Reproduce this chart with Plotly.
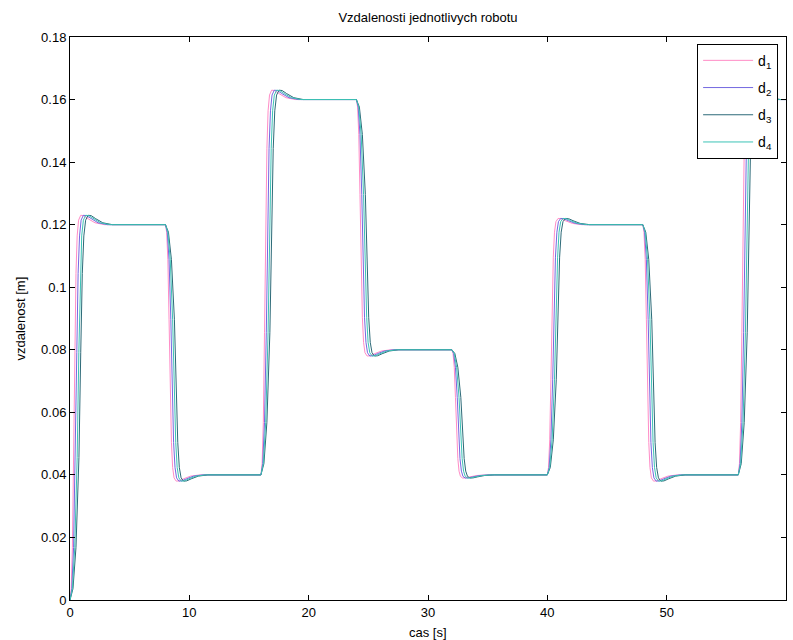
import plotly.graph_objects as go

# Distance profile shared by all robots (m); each robot follows it with its own timing
distance_path = [
    0.0, 0.0036, 0.0168, 0.0456, 0.0792, 0.1044, 0.1164, 0.12144, 0.123, 0.12288, 0.12192, 0.1206, 0.12,
    0.12, 0.1176, 0.1088, 0.0896, 0.0672, 0.0504, 0.0424, 0.03904, 0.038, 0.03808, 0.03872, 0.0396, 0.04,
    0.04, 0.0436, 0.0568, 0.0856, 0.1192, 0.1444, 0.1564, 0.16144, 0.163, 0.16288, 0.16192, 0.1606, 0.16,
    0.16, 0.1576, 0.1488, 0.1296, 0.1072, 0.0904, 0.0824, 0.07904, 0.078, 0.07808, 0.07872, 0.0796, 0.08,
    0.08, 0.0788, 0.0744, 0.0648, 0.0536, 0.0452, 0.0412, 0.03952, 0.039, 0.03904, 0.03936, 0.0398, 0.04,
    0.04, 0.0424, 0.0512, 0.0704, 0.0928, 0.1096, 0.1176, 0.12096, 0.122, 0.12192, 0.12128, 0.1204, 0.12,
    0.12, 0.1176, 0.1088, 0.0896, 0.0672, 0.0504, 0.0424, 0.03904, 0.038, 0.03808, 0.03872, 0.0396, 0.04,
    0.04, 0.0436, 0.0568, 0.0856, 0.1192, 0.1444, 0.1564, 0.16144, 0.163, 0.16288, 0.16192, 0.1606, 0.16,
    0.16,
]

# Sample times (s) for each robot
t_d1 = [
    0, 0.1, 0.2, 0.3, 0.4, 0.5, 0.6, 0.72, 0.9, 1.15, 1.5, 2.1, 2.9,
    8, 8.1, 8.2, 8.3, 8.4, 8.5, 8.6, 8.72, 8.9, 9.15, 9.5, 10.1, 10.9,
    16, 16.1, 16.2, 16.3, 16.4, 16.5, 16.6, 16.72, 16.9, 17.15, 17.5, 18.1, 18.9,
    24, 24.1, 24.2, 24.3, 24.4, 24.5, 24.6, 24.72, 24.9, 25.15, 25.5, 26.1, 26.9,
    32, 32.1, 32.2, 32.3, 32.4, 32.5, 32.6, 32.72, 32.9, 33.15, 33.5, 34.1, 34.9,
    40, 40.1, 40.2, 40.3, 40.4, 40.5, 40.6, 40.72, 40.9, 41.15, 41.5, 42.1, 42.9,
    48, 48.1, 48.2, 48.3, 48.4, 48.5, 48.6, 48.72, 48.9, 49.15, 49.5, 50.1, 50.9,
    56, 56.1, 56.2, 56.3, 56.4, 56.5, 56.6, 56.72, 56.9, 57.15, 57.5, 58.1, 58.9,
    60,
]
t_d2 = [
    0, 0.15, 0.3, 0.45, 0.57, 0.68, 0.8, 0.93, 1.12, 1.38, 1.75, 2.35, 3.15,
    8, 8.15, 8.3, 8.45, 8.57, 8.68, 8.8, 8.93, 9.12, 9.38, 9.75, 10.35, 11.15,
    16, 16.15, 16.3, 16.45, 16.57, 16.68, 16.8, 16.93, 17.12, 17.38, 17.75, 18.35, 19.15,
    24, 24.15, 24.3, 24.45, 24.57, 24.68, 24.8, 24.93, 25.12, 25.38, 25.75, 26.35, 27.15,
    32, 32.15, 32.3, 32.45, 32.57, 32.68, 32.8, 32.93, 33.12, 33.38, 33.75, 34.35, 35.15,
    40, 40.15, 40.3, 40.45, 40.57, 40.68, 40.8, 40.93, 41.12, 41.38, 41.75, 42.35, 43.15,
    48, 48.15, 48.3, 48.45, 48.57, 48.68, 48.8, 48.93, 49.12, 49.38, 49.75, 50.35, 51.15,
    56, 56.15, 56.3, 56.45, 56.57, 56.68, 56.8, 56.93, 57.12, 57.38, 57.75, 58.35, 59.15,
    60,
]
t_d3 = [
    0, 0.25, 0.5, 0.75, 0.9, 1.03, 1.16, 1.31, 1.52, 1.78, 2.15, 2.75, 3.55,
    8, 8.25, 8.5, 8.75, 8.9, 9.03, 9.16, 9.31, 9.52, 9.78, 10.15, 10.75, 11.55,
    16, 16.25, 16.5, 16.75, 16.9, 17.03, 17.16, 17.31, 17.52, 17.78, 18.15, 18.75, 19.55,
    24, 24.25, 24.5, 24.75, 24.9, 25.03, 25.16, 25.31, 25.52, 25.78, 26.15, 26.75, 27.55,
    32, 32.25, 32.5, 32.75, 32.9, 33.03, 33.16, 33.31, 33.52, 33.78, 34.15, 34.75, 35.55,
    40, 40.25, 40.5, 40.75, 40.9, 41.03, 41.16, 41.31, 41.52, 41.78, 42.15, 42.75, 43.55,
    48, 48.25, 48.5, 48.75, 48.9, 49.03, 49.16, 49.31, 49.52, 49.78, 50.15, 50.75, 51.55,
    56, 56.25, 56.5, 56.75, 56.9, 57.03, 57.16, 57.31, 57.52, 57.78, 58.15, 58.75, 59.55,
    60,
]
t_d4 = [
    0, 0.2, 0.4, 0.6, 0.74, 0.86, 0.98, 1.12, 1.32, 1.58, 1.95, 2.55, 3.35,
    8, 8.2, 8.4, 8.6, 8.74, 8.86, 8.98, 9.12, 9.32, 9.58, 9.95, 10.55, 11.35,
    16, 16.2, 16.4, 16.6, 16.74, 16.86, 16.98, 17.12, 17.32, 17.58, 17.95, 18.55, 19.35,
    24, 24.2, 24.4, 24.6, 24.74, 24.86, 24.98, 25.12, 25.32, 25.58, 25.95, 26.55, 27.35,
    32, 32.2, 32.4, 32.6, 32.74, 32.86, 32.98, 33.12, 33.32, 33.58, 33.95, 34.55, 35.35,
    40, 40.2, 40.4, 40.6, 40.74, 40.86, 40.98, 41.12, 41.32, 41.58, 41.95, 42.55, 43.35,
    48, 48.2, 48.4, 48.6, 48.74, 48.86, 48.98, 49.12, 49.32, 49.58, 49.95, 50.55, 51.35,
    56, 56.2, 56.4, 56.6, 56.74, 56.86, 56.98, 57.12, 57.32, 57.58, 57.95, 58.55, 59.35,
    60,
]

series_names = ["d<sub>1</sub>", "d<sub>2</sub>", "d<sub>3</sub>", "d<sub>4</sub>"]
series_times = [t_d1, t_d2, t_d3, t_d4]
series_colors = ["#ff8cc6", "#7468e0", "#2d6a78", "#3cc3b6"]

x_ticks = [0, 10, 20, 30, 40, 50, 60]
y_ticks = [0, 0.02, 0.04, 0.06, 0.08, 0.1, 0.12, 0.14, 0.16, 0.18]
y_tick_text = ["0", "0.02", "0.04", "0.06", "0.08", "0.1", "0.12", "0.14", "0.16", "0.18"]

FONT = "Liberation Sans, Arial, sans-serif"

fig = go.Figure()
for i, (name, times, color) in enumerate(zip(series_names, series_times, series_colors)):
    fig.add_trace(go.Scatter(
        x=times, y=distance_path, mode="lines", name=name, legendgroup=f"g{i}",
        line=dict(color=color, width=1),
    ))

axis_style = dict(
    showline=True, linecolor="black", linewidth=1, mirror="ticks",
    ticks="inside", ticklen=5, tickcolor="black", tickwidth=1,
    showgrid=False, zeroline=False,
    tickfont=dict(family=FONT, size=13, color="black"),
)

fig.update_layout(
    width=793, height=640,
    margin=dict(l=70, r=7, t=37, b=40),
    paper_bgcolor="white", plot_bgcolor="white",
    font=dict(family=FONT, size=13, color="black"),
    title=dict(text="Vzdalenosti jednotlivych robotu", x=(70 + 358) / 793, xanchor="center",
               y=1 - 17 / 640, yanchor="middle", yref="container",
               font=dict(family=FONT, size=13, color="black")),
    xaxis=dict(range=[0, 60], tickvals=x_ticks, **axis_style),
    yaxis=dict(range=[0, 0.18], tickvals=y_ticks, ticktext=y_tick_text, **axis_style),
    showlegend=True,
    legend=dict(x=0.989, y=0.988, xanchor="right", yanchor="top",
                bgcolor="white", bordercolor="black", borderwidth=1,
                font=dict(family=FONT, size=14, color="black"),
                itemwidth=50, tracegroupgap=6),
    annotations=[
        dict(text="cas [s]", xref="paper", yref="paper", x=0.5, y=(600 - 632) / 563,
             xanchor="center", yanchor="middle", showarrow=False,
             font=dict(family=FONT, size=13, color="black")),
        dict(text="vzdalenost [m]", xref="paper", yref="paper", x=(20 - 70) / 716, y=0.5,
             xanchor="center", yanchor="middle", textangle=-90, showarrow=False,
             font=dict(family=FONT, size=13, color="black")),
    ],
)

fig.write_html("out.html")
